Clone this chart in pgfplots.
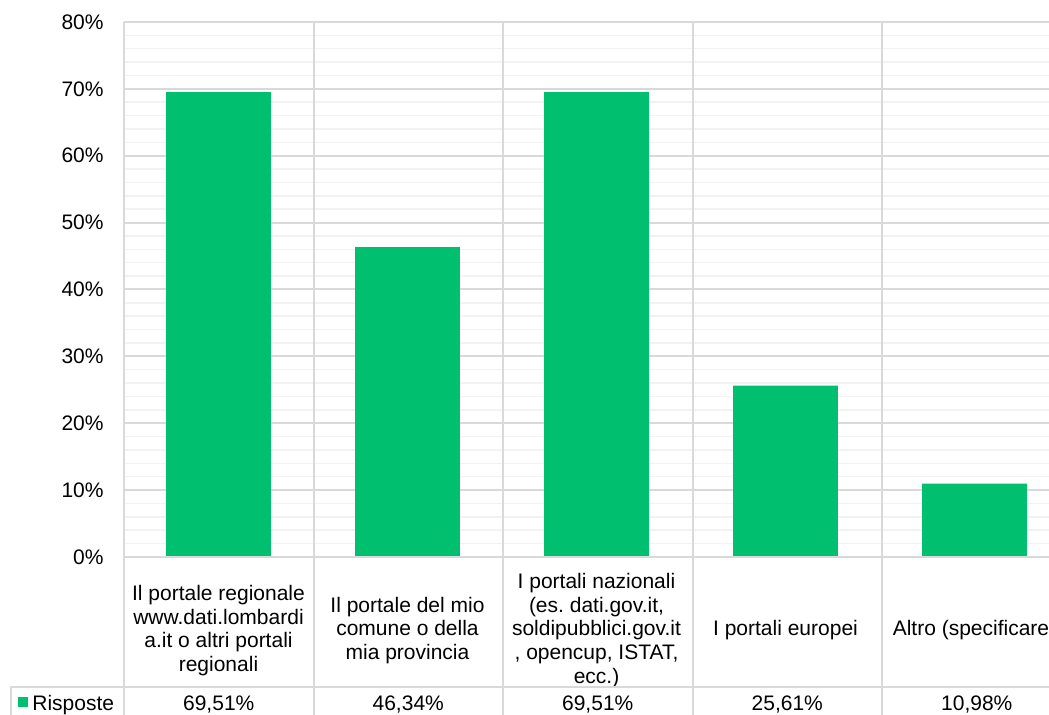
\documentclass[border=0pt]{standalone}
\usepackage{fontspec}
\setmainfont{Liberation Sans}
\usepackage{pgfplots}
\pgfplotsset{compat=1.18}
\definecolor{barg}{HTML}{00BF6F}
\definecolor{gmaj}{HTML}{D9D9D9}
\definecolor{gmin}{HTML}{F2F2F2}
\begin{document}
\frenchspacing
\fontsize{10.5}{11.9}\selectfont
\begin{tikzpicture}
\useasboundingbox (0pt,0pt) rectangle (524.5pt,357.5pt);
\clip (0pt,0pt) rectangle (524.5pt,357.5pt);
\begin{axis}[
  at={(62pt,79pt)}, anchor=south west, scale only axis,
  width=472.5pt, height=267.5pt,
  xmin=-0.5, xmax=4.5, ymin=0, ymax=80,
  ybar, bar width=0.554,
  axis line style={draw=none},
  ytick={0,10,...,80}, minor ytick={2,4,...,78},
  ymajorgrids, yminorgrids,
  major grid style={gmaj, line width=1pt},
  minor grid style={gmin, line width=0.75pt},
  tick style={draw=none},
  /pgf/number format/assume math mode=true,
  yticklabel={\pgfmathprintnumber{\tick}\%},
  yticklabel style={font=\fontsize{10.5}{11.9}\selectfont, xshift=-6.5pt},
  xtick={0,1,2,3,4},
  xticklabels={
    {Il portale regionale\\www.dati.lombardi\\a.it o altri portali\\regionali},
    {Il portale del mio\\comune o della\\mia provincia},
    {I portali nazionali\\(es.\ dati.gov.it,\\soldipubblici.gov.it\\, opencup, ISTAT,\\ecc.)},
    {I portali europei},
    {Altro (specificare)}},
  xticklabel style={anchor=center, yshift=-32.5pt, align=center,
    font=\fontsize{10.5}{11.9}\selectfont},
]
\addplot[fill=barg, draw=none] coordinates {(0,69.51) (1,46.34) (2,69.51) (3,25.61) (4,10.98)};
\end{axis}
\begin{scope}[x=0.5pt,y=0.5pt]
\foreach \xx in {124,313.5,503,692.5,882}{
  \draw[gmaj, line width=1pt] (\xx,0) -- (\xx,693);
}
\draw[gmaj, line width=1pt] (124,158) -- (1049,158);
\draw[gmaj, line width=1pt] (11,0) -- (11,28) -- (1049,28);
\fill[barg] (18,8) rectangle (28,18);
\node[anchor=base west, inner sep=0pt] at (32,4) {Risposte};
\node[anchor=base, inner sep=0pt] at (218.75,4) {69,51\%};
\node[anchor=base, inner sep=0pt] at (408.25,4) {46,34\%};
\node[anchor=base, inner sep=0pt] at (597.75,4) {69,51\%};
\node[anchor=base, inner sep=0pt] at (787.25,4) {25,61\%};
\node[anchor=base, inner sep=0pt] at (976.75,4) {10,98\%};
\end{scope}
\end{tikzpicture}
\end{document}
